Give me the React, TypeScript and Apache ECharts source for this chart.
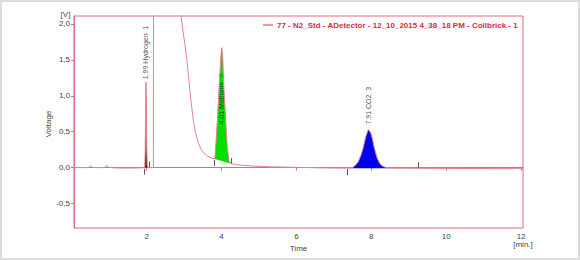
import React, { useEffect, useRef } from "react";
import * as echarts from "echarts";

// ---- data (time [min], voltage [V]) ----
const preH2: number[][] = [[0.06, 0], [0.45, 0], [0.5, 0.025], [0.55, 0.004], [0.65, 0], [0.88, 0], [0.93, 0.028], [0.98, 0.006], [1.1, -0.002], [1.3, -0.006], [1.6, -0.006], [1.85, -0.003]];
const h2Peak: number[][] = [[1.95, 0.0], [1.962, 0.25], [1.972, 0.8], [1.982, 1.19], [1.992, 0.85], [2.002, 0.3], [2.015, 0.04], [2.03, 0.0]];
const offScale: number[][] = [[2.06, 0], [2.18, 0], [2.185, 3.5], [2.9, 3.5], [2.92, 2.1], [2.97, 1.9], [3.02, 1.72], [3.07, 1.52], [3.12, 1.25], [3.18, 0.95], [3.24, 0.68], [3.3, 0.5], [3.38, 0.34], [3.47, 0.24], [3.6, 0.17], [3.72, 0.135]];
const ch4Peak: number[][] = [[3.82, 0.12], [3.85, 0.34], [3.895, 0.72], [3.94, 1.18], [3.985, 1.56], [4.005, 1.67], [4.03, 1.56], [4.06, 1.13], [4.11, 0.67], [4.15, 0.3], [4.2, 0.09], [4.25, 0.055]];
const midBase: number[][] = [[4.5, 0.035], [4.84, 0.022], [5.3, 0.012], [6.0, 0.004], [6.8, -0.005], [7.34, -0.008]];
const co2Peak: number[][] = [[7.47, -0.008], [7.55, 0.02], [7.65, 0.08], [7.72, 0.17], [7.78, 0.27], [7.85, 0.43], [7.92, 0.53], [7.98, 0.49], [8.03, 0.4], [8.08, 0.27], [8.15, 0.14], [8.22, 0.06], [8.3, 0.02], [8.4, 0.0], [8.5, -0.008]];
const tailBase: number[][] = [[9.24, -0.01], [10.5, -0.012], [12.05, -0.014]];

const peakLabels = ["1.99 Hydrogen  1", "4.01 Methane  2", "7.91 CO2  3"];
const labelAnchors: number[][] = [[1.982, 1.23], [4.0, 0.6], [7.92, 0.6]];
const peakMarks: number[][] = [[1.92, 0.0, -1], [2.06, 0.0, 1], [3.8, 0.12, -1], [4.26, 0.05, 1], [7.34, -0.008, -1], [9.24, -0.01, 1]];
const xTicks = [2, 4, 6, 8, 10, 12];
const yTicks = [-0.5, 0, 0.5, 1.0, 1.5, 2.0];
const seriesName = "77 - N2_Std - ADetector - 12_10_2015 4_38_18 PM - Colibrick - 1";

const trace = [...preH2, ...h2Peak, ...offScale, ...ch4Peak, ...midBase, ...co2Peak, ...tailBase];
const fills = [h2Peak, ch4Peak, co2Peak];
const fillColors = ["#40240f", "#00e000", "#0000f0"];

const FRAME = "#e06a80";
const TRACE = "#e8808f";
const FONT = "Liberation Sans";

export default function App() {
  const ref = useRef<HTMLDivElement>(null);
  useEffect(() => {
    const chart = echarts.init(ref.current!, null, { renderer: "svg" });
    chart.setOption({
      animation: false,
      backgroundColor: "#ffffff",
      grid: { left: 74, top: 16, right: 57, bottom: 32, show: true, borderColor: FRAME, borderWidth: 1 },
      legend: {
        data: [{ name: seriesName, icon: "rect", itemStyle: { color: "#e0283c" } }],
        right: 62,
        top: 21,
        padding: 0,
        itemWidth: 10,
        itemHeight: 1,
        selectedMode: false,
        textStyle: { color: "#e0283c", fontWeight: "bold", fontSize: 8, fontFamily: FONT, padding: [0, 0, 0, -1] },
      },
      xAxis: {
        type: "value",
        min: 0.06,
        max: 12.05,
        name: "Time",
        nameLocation: "middle",
        nameGap: 15,
        nameTextStyle: { fontSize: 8, color: "#444", fontFamily: FONT },
        axisLine: { show: true, lineStyle: { color: FRAME } },
        axisTick: { show: true, length: 3, customValues: xTicks, lineStyle: { color: FRAME } },
        axisLabel: { customValues: xTicks, fontSize: 8, color: "#444", fontFamily: FONT, margin: 4 },
        splitLine: { show: false },
      },
      yAxis: {
        type: "value",
        min: -0.84,
        max: 2.11,
        axisLine: { show: true, lineStyle: { color: FRAME } },
        axisTick: { show: true, length: 3, customValues: yTicks, lineStyle: { color: FRAME } },
        axisLabel: {
          customValues: yTicks,
          fontSize: 8,
          color: "#444",
          fontFamily: FONT,
          margin: 4,
          formatter: (v: number) => v.toFixed(1).replace(".", ","),
        },
        splitLine: { show: false },
      },
      graphic: [
        { type: "rect", shape: { x: 1, y: 1, width: 578, height: 258 }, style: { fill: "none", stroke: "#dcdcdc", lineWidth: 2 }, silent: true },
        { type: "text", x: 65.5, y: 14, style: { text: "[V]", fontSize: 8, fill: "#444", fontFamily: FONT, align: "center", verticalAlign: "middle" } },
        { type: "text", x: 48, y: 124, rotation: Math.PI / 2, style: { text: "Voltage", fontSize: 8, fill: "#444", fontFamily: FONT, align: "center", verticalAlign: "middle" } },
        { type: "text", x: 523, y: 244, style: { text: "[min.]", fontSize: 8, fill: "#444", fontFamily: FONT, align: "center", verticalAlign: "middle" } },
      ],
      series: [
        {
          type: "custom",
          clip: true,
          silent: true,
          data: fills.map((f) => f[0]),
          encode: { x: 0, y: 1 },
          renderItem: (params: any, api: any) => {
            const pts = fills[params.dataIndex].map((p) => api.coord(p));
            return { type: "polygon", shape: { points: pts }, style: { fill: fillColors[params.dataIndex], stroke: null } };
          },
        },
        {
          type: "line",
          name: seriesName,
          data: trace,
          showSymbol: false,
          clip: true,
          silent: true,
          lineStyle: { color: TRACE, width: 1 },
          itemStyle: { color: "#e0283c" },
        },
        {
          type: "custom",
          clip: true,
          silent: true,
          data: peakMarks,
          encode: { x: 0, y: 1 },
          renderItem: (params: any, api: any) => {
            const p = api.coord([api.value(0), api.value(1)]);
            const d = api.value(2);
            const ya = d < 0 ? p[1] + 1 : p[1] - 6;
            const yb = d < 0 ? p[1] + 7 : p[1];
            return { type: "line", shape: { x1: Math.round(p[0]) + 0.5, y1: ya, x2: Math.round(p[0]) + 0.5, y2: yb }, style: { stroke: "#555", lineWidth: 1 } };
          },
        },
        {
          type: "scatter",
          silent: true,
          symbolSize: 1,
          itemStyle: { color: "transparent" },
          data: labelAnchors.map((p, i) => ({ value: p, label: { formatter: peakLabels[i] } })),
          label: {
            show: true,
            position: "inside",
            rotate: 90,
            align: "left",
            verticalAlign: "middle",
            fontSize: 7,
            color: "#222",
            fontFamily: FONT,
          },
        },
      ],
    });
    return () => chart.dispose();
  }, []);
  return (
    <div
      ref={ref}
      style={{ position: "fixed", left: 0, top: 0, width: 580, height: 260, background: "#fff" }}
    />
  );
}
